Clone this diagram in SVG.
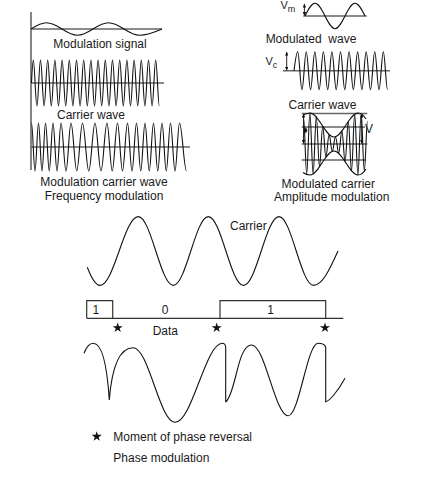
<svg xmlns="http://www.w3.org/2000/svg" width="428" height="480" viewBox="0 0 428 480">
<style>
.t{font-family:"Liberation Sans",Arial,sans-serif;font-size:12px;fill:#1a1a1a}
.m{text-anchor:middle}
.w{fill:none;stroke:#111;stroke-width:1.1}
.ax{fill:none;stroke:#666;stroke-width:1.5}
.ax2{fill:none;stroke:#333;stroke-width:1.2}
.arr{stroke:#111;stroke-width:0.9;marker-start:url(#ah);marker-end:url(#ah)}
</style>
<defs>
<marker id="ah" viewBox="0 0 6 6" refX="6" refY="3" markerWidth="3.5" markerHeight="3.5" orient="auto-start-reverse" markerUnits="userSpaceOnUse"><path d="M0,0 L6,3 L0,6 z" fill="#111"/></marker>
<path id="star" d="M0,-5.3 L1.19,-1.64 L5.04,-1.64 L1.93,0.63 L3.12,4.29 L0,2.03 L-3.12,4.29 L-1.93,0.63 L-5.04,-1.64 L-1.19,-1.64 Z" fill="#111"/>
</defs>

<g id="fm-panel">
 <path class="ax2" d="M31,12 V170"/>
 <g id="modulation-signal">
  <path class="ax" d="M31,29 H162"/>
  <path class="w" d="M31,29 c5.18,-3.31 9.87,-6.3 15.5,-6.3 c11.28,0 19.72,12.6 31,12.6 c11.28,0 19.72,-12.6 31,-12.6 c11.28,0 19.72,12.6 31,12.6 c8.17,0 14.99,-2.99 22.5,-6.3"/>
  <text class="t m" x="100" y="48">Modulation signal</text>
 </g>
 <g id="carrier-wave-fm">
  <path class="ax" d="M31,83 H164"/>
  <path class="w" d="M31.5,83 c0.6,-12.08 1.15,-23 1.8,-23 c1.31,0 2.29,46 3.6,46 s2.29,-46 3.6,-46 s2.29,46 3.6,46 s2.29,-46 3.6,-46 s2.29,46 3.6,46 s2.29,-46 3.6,-46 s2.29,46 3.6,46 s2.29,-46 3.6,-46 s2.29,46 3.6,46 s2.29,-46 3.6,-46 s2.29,46 3.6,46 s2.29,-46 3.6,-46 s2.29,46 3.6,46 s2.29,-46 3.6,-46 s2.29,46 3.6,46 s2.29,-46 3.6,-46 s2.29,46 3.6,46 s2.29,-46 3.6,-46 s2.29,46 3.6,46 s2.29,-46 3.6,-46 s2.29,46 3.6,46 s2.29,-46 3.6,-46 s2.29,46 3.6,46 s2.29,-46 3.6,-46 s2.29,46 3.6,46 s2.29,-46 3.6,-46 s2.29,46 3.6,46 s2.29,-46 3.6,-46 s2.29,46 3.6,46 s2.29,-46 3.6,-46 s2.29,46 3.6,46 s2.29,-46 3.6,-46 s2.29,46 3.6,46 s2.29,-46 3.6,-46 s2.29,46 3.6,46"/>
  <text class="t m" x="91" y="119.3">Carrier wave</text>
 </g>
 <g id="fm-wave">
  <path class="ax" d="M31,147 H190"/>
  <path class="w" d="M31.5,123 C32.77,123 33.73,171 35,171 C36.27,171 37.23,123 38.5,123 C39.77,123 40.73,171 42,171 C43.27,171 44.23,123 45.5,123 C46.87,123 47.89,171 49.25,171 C50.62,171 51.64,123 53,123 C54.46,123 55.54,171 57,171 C58.46,171 59.54,123 61,123 C62.82,123 64.18,171 66,171 C67.82,171 69.18,123 71,123 C73.09,123 74.66,171 76.75,171 C78.84,171 80.41,123 82.5,123 C84.78,123 86.48,171 88.75,171 C91.03,171 92.73,123 95,123 C97.18,123 98.82,171 101,171 C103.18,171 104.82,123 107,123 C108.91,123 110.34,171 112.25,171 C114.16,171 115.59,123 117.5,123 C119.32,123 120.68,171 122.5,171 C124.32,171 125.68,123 127.5,123 C129.14,123 130.36,171 132,171 C133.64,171 134.86,123 136.5,123 C138.05,123 139.2,171 140.75,171 C142.3,171 143.45,123 145,123 C146.55,123 147.7,171 149.25,171 C150.8,171 151.95,123 153.5,123 C155.05,123 156.2,171 157.75,171 C159.3,171 160.45,123 162,123 C163.55,123 164.7,171 166.25,171 C167.8,171 168.95,123 170.5,123 C172.14,123 173.36,171 175,171 C176.64,171 177.86,123 179.5,123 C182.05,123 183.95,171 186.5,171"/>
  <text class="t m" x="104" y="186">Modulation carrier wave</text>
  <text class="t m" x="104" y="199.5">Frequency modulation</text>
 </g>
</g>

<g id="am-panel">
 <g id="vm-signal">
  <path class="ax" d="M303.3,16 H366.7"/>
  <path class="w" d="M305,16 c3.34,-6.67 6.37,-12.7 10,-12.7 c7.28,0 12.72,25.4 20,25.4 s12.72,-25.4 20,-25.4 c3.63,0 6.66,6.03 10,12.7"/>
  <text class="t" x="280.5" y="8.5" style="font-size:11px">V<tspan dy="3" style="font-size:9px">m</tspan></text>
 </g>
 <g id="modulated-wave">
  <text class="t m" x="311" y="43" xml:space="preserve">Modulated  wave</text>
  <path class="ax" d="M283,70.7 H390"/>
  <path class="w" d="M294,70.7 c1.24,-9.98 2.36,-19 3.7,-19 c1.56,0 2.72,38 4.28,38 s2.72,-38 4.28,-38 s2.72,38 4.28,38 s2.72,-38 4.28,-38 s2.72,38 4.28,38 s2.72,-38 4.28,-38 s2.72,38 4.28,38 s2.72,-38 4.28,-38 s2.72,38 4.28,38 s2.72,-38 4.28,-38 s2.72,38 4.28,38 s2.72,-38 4.28,-38 s2.72,38 4.28,38 s2.72,-38 4.28,-38 s2.72,38 4.28,38 s2.72,-38 4.28,-38 s2.72,38 4.28,38 s2.72,-38 4.28,-38 s2.72,38 4.28,38 s2.72,-38 4.28,-38 s2.72,38 4.28,38"/>
  <text class="t" x="265.5" y="65" style="font-size:11px">V<tspan dy="3" style="font-size:9px">c</tspan></text>
 </g>
 <g id="am-carrier">
  <text class="t m" x="322.5" y="108.5">Carrier wave</text>
  <path class="ax" d="M301.7,113.5 H367.3 M301.7,127 H365 M301.7,144 H367.3 M301.7,160 H366"/>
  <path class="w" d="M303,115.5 C305.5,113.6 307.5,113 310,113 C318.74,113 325.26,137 334,137 C342.74,137 349.26,113 358,113 C361,113 363.5,115 366,119"/>
  <path class="w" d="M303,172.5 C305.5,174.4 307.5,175 310,175 C318.74,175 325.26,151 334,151 C342.74,151 349.26,175 358,175 C361,175 363.5,173 366,169"/>
  <path class="w" d="M303.5,117.1 C304.67,117.1 305.54,173.9 306.7,173.9 S308.74,113 309.9,113 S311.94,174 313.1,174 S315.14,116.9 316.3,116.9 S318.34,166.9 319.5,166.9 S321.54,126.1 322.7,126.1 S324.74,157.1 325.9,157.1 S327.94,134.6 329.1,134.6 S331.14,151.3 332.3,151.3 S334.34,136.8 335.5,136.8 S337.54,153.2 338.7,153.2 S340.74,131.1 341.9,131.1 S343.94,161.6 345.1,161.6 S347.14,121.4 348.3,121.4 S350.34,170.9 351.5,170.9 S353.54,114.1 354.7,114.1 S356.74,175 357.9,175 S359.94,114 361.1,114 S363.14,171.1 364.3,171.1 S366.34,121.1 367.5,121.1"/>
  <text class="t" x="365" y="133">V</text>
  <text class="t m" x="328.3" y="187.7">Modulated carrier</text>
  <text class="t m" x="331.7" y="201">Amplitude modulation</text>
 </g>
</g>

<g id="arrows">
 <line class="arr" x1="304.4" y1="4" x2="304.4" y2="15.5"/>
 <line class="arr" x1="286.7" y1="52" x2="286.7" y2="70.3"/>
 <line class="arr" x1="303.5" y1="114" x2="303.5" y2="143.5"/>
 <line class="arr" x1="305.8" y1="127.5" x2="305.8" y2="133"/>
 <line class="arr" x1="361.7" y1="114" x2="361.7" y2="143.5"/>
</g>

<g id="pm-panel">
 <g id="pm-carrier">
  <path class="w" d="M87.3,267.3 C91,277 95,285.4 100,285.4 C113.94,285.4 124.36,216.6 138.3,216.6 C151.04,216.6 160.56,285.4 173.3,285.4 C186.04,285.4 195.56,216.6 208.3,216.6 C221.11,216.6 230.69,285.4 243.5,285.4 C256.42,285.4 266.08,216.6 279,216.6 C291.56,216.6 300.94,285.4 313.5,285.4 C322.39,285.4 329.82,269.06 338,251"/>
  <text class="t" x="230" y="229.5">Carrier</text>
 </g>
 <g id="data">
  <path class="ax2" d="M86.7,318.3 H343.3 M86.7,318.3 V300.7 H112.7 V318.3 M220,318.3 V300.7 H325.7 V318.3"/>
  <text class="t m" x="95.8" y="314">1</text>
  <text class="t m" x="165" y="314">0</text>
  <text class="t m" x="270.5" y="314">1</text>
  <use href="#star" x="117.7" y="327.8"/>
  <use href="#star" x="216.7" y="327.8"/>
  <use href="#star" x="325" y="327.8"/>
  <text class="t" x="152.7" y="334.5">Data</text>
 </g>
 <g id="pm-wave">
  <path class="w" d="M84,353.3 C86.5,347 89.5,343.3 93.3,343.3 C102,343.3 107,365 109.3,400 C111.5,372 118,347.7 133.3,347.7 C148.5,347.7 159.8,422.3 175,422.3 C192.3,422.3 205.2,343.3 222.5,343.3 C223.8,343.3 225.2,344.5 225.7,347 L225.7,401.7 C229,400 233,387 236,375 C239,363 243,345 251.7,345 C265.02,345 274.98,415.7 288.3,415.7 C299.1,415.7 307.2,343.3 318,343.3 C320.5,343.3 324.5,344 325.7,347 L325.7,401.7 C329,401 337,393 345,378.3"/>
 </g>
 <g id="legend">
  <use href="#star" x="96.7" y="436.5"/>
  <text class="t" x="113.3" y="440.5">Moment of phase reversal</text>
  <text class="t" x="113.3" y="461.5">Phase modulation</text>
 </g>
</g>
</svg>
